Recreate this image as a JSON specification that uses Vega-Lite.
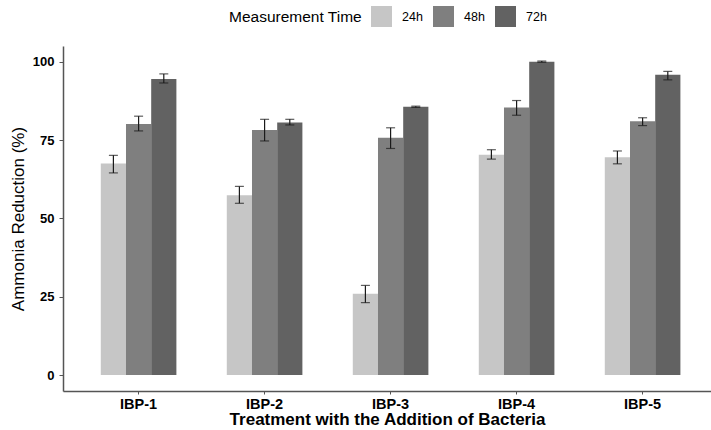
{
  "$schema": "https://vega.github.io/schema/vega-lite/v6.json",
  "width": 648,
  "height": 345,
  "autosize": {"type": "none"},
  "padding": {"left": 63, "top": 46, "right": 0, "bottom": 39},
  "background": "white",
  "config": {
    "view": {"stroke": null},
    "font": "Liberation Sans"
  },
  "data": {
    "values": [
      {"treatment": "IBP-1", "time": "24h", "mean": 67.5, "lo": 64.5, "hi": 70.1},
      {"treatment": "IBP-1", "time": "48h", "mean": 80.1, "lo": 77.9, "hi": 82.6},
      {"treatment": "IBP-1", "time": "72h", "mean": 94.5, "lo": 93.2, "hi": 96.1},
      {"treatment": "IBP-2", "time": "24h", "mean": 57.4, "lo": 54.8, "hi": 60.2},
      {"treatment": "IBP-2", "time": "48h", "mean": 78.2, "lo": 74.7, "hi": 81.6},
      {"treatment": "IBP-2", "time": "72h", "mean": 80.6, "lo": 79.8, "hi": 81.6},
      {"treatment": "IBP-3", "time": "24h", "mean": 25.9, "lo": 23.1, "hi": 28.6},
      {"treatment": "IBP-3", "time": "48h", "mean": 75.7, "lo": 72.3, "hi": 78.9},
      {"treatment": "IBP-3", "time": "72h", "mean": 85.6, "lo": 85.4, "hi": 85.8},
      {"treatment": "IBP-4", "time": "24h", "mean": 70.3, "lo": 68.9, "hi": 71.9},
      {"treatment": "IBP-4", "time": "48h", "mean": 85.4, "lo": 82.9, "hi": 87.6},
      {"treatment": "IBP-4", "time": "72h", "mean": 100.0, "lo": 99.8, "hi": 100.2},
      {"treatment": "IBP-5", "time": "24h", "mean": 69.5, "lo": 67.4, "hi": 71.5},
      {"treatment": "IBP-5", "time": "48h", "mean": 81.0, "lo": 79.6, "hi": 82.1},
      {"treatment": "IBP-5", "time": "72h", "mean": 95.8, "lo": 94.2, "hi": 96.9}
    ]
  },
  "encoding": {
    "x": {
      "field": "treatment",
      "type": "nominal",
      "sort": ["IBP-1", "IBP-2", "IBP-3", "IBP-4", "IBP-5"],
      "scale": {"paddingInner": 0.4, "paddingOuter": 0.2714, "align": 0.5526},
      "axis": {
        "title": "Treatment with the Addition of Bacteria",
        "labelAngle": 0,
        "labelFontSize": 14.5,
        "labelFontWeight": "bold",
        "labelColor": "#000000",
        "labelPadding": 3,
        "tickSize": 3,
        "tickColor": "#555555",
        "domainColor": "#555555",
        "domainWidth": 1.5,
        "titleFontSize": 17,
        "titleFontWeight": "bold",
        "titleColor": "#000000",
        "titlePadding": 1
      }
    },
    "xOffset": {"field": "time", "type": "nominal", "sort": ["24h", "48h", "72h"]}
  },
  "layer": [
    {
      "mark": {"type": "bar"},
      "encoding": {
        "y": {
          "field": "mean",
          "type": "quantitative",
          "title": "Ammonia Reduction (%)",
          "scale": {"domain": [-5.1, 105], "nice": false, "zero": false},
          "axis": {
            "values": [0, 25, 50, 75, 100],
            "grid": false,
            "labelFontSize": 13,
            "labelFontWeight": "bold",
            "labelColor": "#000000",
            "labelPadding": 5,
            "tickSize": 4,
            "tickColor": "#555555",
            "domainColor": "#555555",
            "domainWidth": 1.5,
            "titleFontSize": 17,
            "titleFontWeight": "normal",
            "titleColor": "#000000",
            "titlePadding": 5
          }
        },
        "y2": {"datum": 0},
        "color": {
          "field": "time",
          "type": "nominal",
          "scale": {"domain": ["24h", "48h", "72h"], "range": ["#c6c6c6", "#7f7f7f", "#626262"]},
          "legend": {
            "title": "Measurement Time",
            "orient": "none",
            "legendX": 166,
            "legendY": -40,
            "direction": "horizontal",
            "titleOrient": "left",
            "titleFontSize": 15.5,
            "titleFontWeight": "normal",
            "titleColor": "#000000",
            "titlePadding": 9,
            "symbolType": "square",
            "symbolSize": 441,
            "symbolStrokeWidth": 0,
            "labelFontSize": 12.5,
            "labelColor": "#000000",
            "labelOffset": 10,
            "columnPadding": 10
          }
        }
      }
    },
    {
      "mark": {"type": "rule", "color": "#1a1a1a", "strokeWidth": 1.2},
      "encoding": {
        "y": {"field": "lo", "type": "quantitative", "title": "Ammonia Reduction (%)"},
        "y2": {"field": "hi"}
      }
    },
    {
      "mark": {"type": "tick", "color": "#1a1a1a", "size": 9, "thickness": 1.2, "orient": "horizontal"},
      "encoding": {
        "y": {"field": "lo", "type": "quantitative", "title": "Ammonia Reduction (%)"}
      }
    },
    {
      "mark": {"type": "tick", "color": "#1a1a1a", "size": 9, "thickness": 1.2, "orient": "horizontal"},
      "encoding": {
        "y": {"field": "hi", "type": "quantitative", "title": "Ammonia Reduction (%)"}
      }
    }
  ]
}
